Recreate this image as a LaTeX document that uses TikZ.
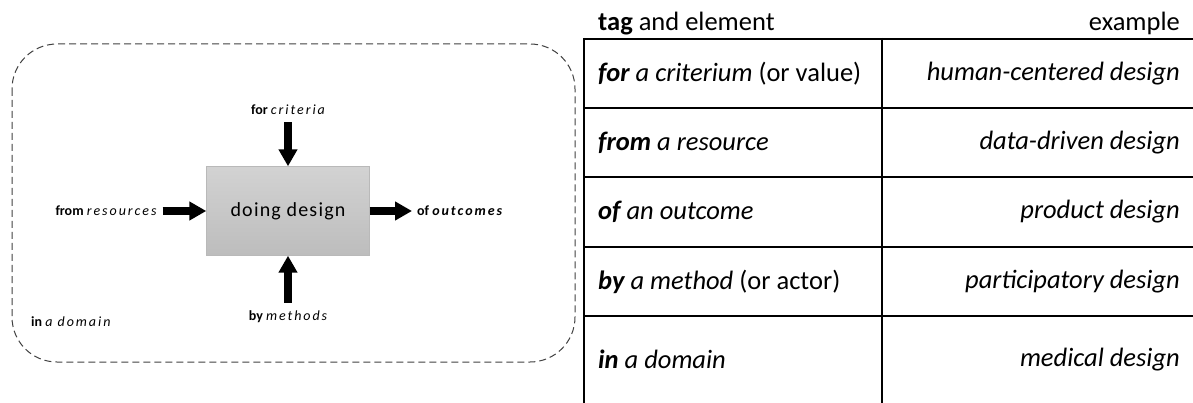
\documentclass[tikz,border=0pt]{standalone}
\usepackage{fontspec}
\setmainfont{Carlito}
\newfontfamily\spacedfont{Carlito}[LetterSpace=14]
\newfontfamily\boxfont{Carlito}[LetterSpace=6]
\usetikzlibrary{arrows.meta}

\begin{document}
\begin{tikzpicture}[x=1pt,y=-1pt,
	tagnode/.style={font=\fontsize{14}{16}\selectfont, inner sep=3pt},
	flow/.style={line width=8.5pt, -{Triangle[length=17pt,width=18pt]}},
	cell/.style={font=\fontsize{26.5}{31}\selectfont, inner sep=0pt},
	tableline/.style={line width=2.5pt}]
	\useasboundingbox (0,0) rectangle (1193,403);
	% the domain around the activity
	\draw[black!75, line width=1pt, dash pattern=on 7pt off 4pt, rounded corners=45pt] (12,44) rectangle (575,362);
	\node[draw=gray!55, top color=gray!35, bottom color=gray!52, minimum width=163pt, minimum height=89pt,
		font=\fontsize{20}{24}\selectfont\boxfont] (doing) at (288,211) {doing design};
	\node[tagnode] (forlbl) at (288,110) {\textbf{for} {\spacedfont\itshape criteria}};
	\node[tagnode] (fromlbl) at (106,211) {\textbf{from} {\spacedfont\itshape resources}};
	\node[tagnode, anchor=west] (oflbl) at (414,211) {\textbf{of} \textbf{\spacedfont\itshape outcomes}};
	\node[tagnode] (bylbl) at (288,317) {\textbf{by} {\spacedfont\itshape methods}};
	\node[tagnode, anchor=west] (inlbl) at (28,322) {\textbf{in} {\spacedfont\itshape a domain}};
	\draw[flow, shorten <=4pt] (forlbl) -- (doing);
	\draw[flow, shorten <=3pt] (fromlbl) -- (doing);
	\draw[flow, shorten >=2pt] (doing) -- (oflbl);
	\draw[flow, shorten <=5pt] (bylbl) -- (doing);
	% table of tags
	\node[cell, anchor=base west] (taghead) at (598,31) {\textbf{tag} and element};
	\node[cell, anchor=base east] (exhead) at (1180,31) {example};
	\foreach \y in {39,108,177,247,316}
		\draw[tableline] (584,\y) -- (1193,\y);
	\draw[tableline] (584,38) -- (584,403);
	\draw[tableline] (882,38) -- (882,403);
	\foreach \y/\lhs/\rhs [count=\i] in {
		73.5/{\textit{\textbf{for} a criterium} (or value)}/human-centered design,
		142.5/{\textit{\textbf{from} a resource}}/data-driven design,
		212/{\textit{\textbf{of} an outcome}}/product design,
		281.5/{\textit{\textbf{by} a method} (or actor)}/participatory design,
		359.5/{\textit{\textbf{in} a domain}}/medical design}{
		\node[cell, anchor=west] (tag\i) at (598,\y) {\lhs};
		\node[cell, anchor=east] (ex\i) at (1180,\y) {\textit{\rhs}};
	}
\end{tikzpicture}
\end{document}
